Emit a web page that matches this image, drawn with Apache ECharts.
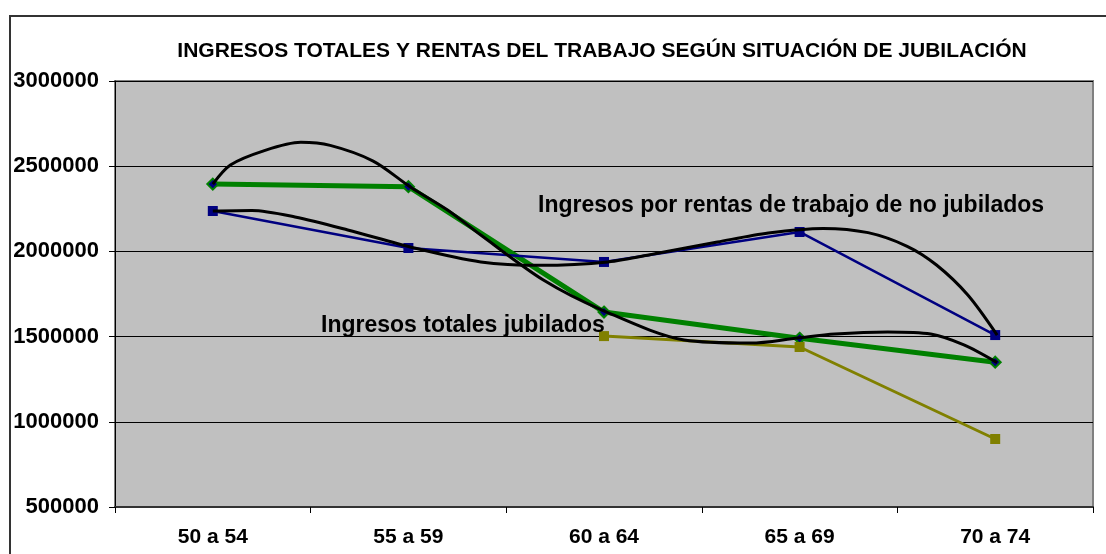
<!DOCTYPE html>
<html>
<head>
<meta charset="utf-8">
<script src="https://cdn.jsdelivr.net/npm/echarts@6/dist/echarts.min.js"></script>
<style>
html,body{margin:0;padding:0;background:#fff;}
#chart{width:1106px;height:554px;}
</style>
</head>
<body>
<div id="chart"></div>
<script>
var categories = ['50 a 54', '55 a 59', '60 a 64', '65 a 69', '70 a 74'];
var ingresosTotalesNoJubilados = [2395000, 2380000, 1644000, 1490000, 1350000];
var rentasTrabajoNoJubilados = [2237000, 2020000, 1938000, 2114000, 1509000];
var ingresosTotalesJubilados = [null, null, 1503000, 1439000, 899000];
// black trend curves as [position, value]; category i is centred at i + 0.5
var tendenciaTotales = [
  [0.50, 2395000], [0.59, 2507000], [0.76, 2590000], [0.95, 2640000],
  [1.10, 2622000], [1.32, 2530000], [1.51, 2378000], [1.70, 2243000],
  [1.87, 2096000], [2.19, 1832000], [2.49, 1656000],
  [2.91, 1480000], [3.25, 1462000], [3.49, 1492000], [3.68, 1515000],
  [3.95, 1527000], [4.17, 1515000], [4.34, 1451000], [4.51, 1347000]
];
var tendenciaRentas = [
  [0.50, 2237000], [0.70, 2240000], [0.92, 2202000], [1.19, 2126000],
  [1.53, 2020000], [1.87, 1938000], [2.17, 1918000], [2.52, 1938000],
  [2.78, 1991000], [3.08, 2055000], [3.34, 2108000], [3.62, 2135000],
  [3.85, 2110000], [4.05, 2030000], [4.20, 1920000], [4.36, 1744000], [4.51, 1509000]
];
var yTicks = {min: 500000, max: 3000000, interval: 500000};
var titulo = 'INGRESOS TOTALES Y RENTAS DEL TRABAJO SEGÚN SITUACIÓN DE JUBILACIÓN';
var nota1 = 'Ingresos por rentas de trabajo de no jubilados';
var nota2 = 'Ingresos totales jubilados';

var FONT = 'Arial, "Liberation Sans", sans-serif';
var chart = echarts.init(document.getElementById('chart'), null, {renderer: 'canvas'});
chart.setOption({
  animation: false,
  backgroundColor: '#ffffff',
  title: {
    text: titulo,
    left: 597, top: 36, textAlign: 'center',
    textStyle: {fontFamily: FONT, fontWeight: 'bold', fontSize: 21, color: '#000'}
  },
  graphic: [
    {type: 'rect', z: -10, shape: {x: 10, y: 16, width: 1200, height: 700},
     style: {fill: 'none', stroke: '#333', lineWidth: 2}},
    {type: 'text', left: 538, top: 194, z: 100,
     style: {text: nota1, font: 'bold 23px ' + FONT, fill: '#000'}},
    {type: 'text', left: 321, top: 314, z: 100,
     style: {text: nota2, font: 'bold 23px ' + FONT, fill: '#000'}}
  ],
  grid: {
    left: 115, top: 81, right: 13, bottom: 47,
    show: true, backgroundColor: '#C0C0C0', borderColor: '#808080', borderWidth: 2,
    containLabel: false
  },
  xAxis: [
    {
      type: 'category', data: categories, boundaryGap: true,
      axisLine: {show: true, onZero: false, lineStyle: {color: '#333', width: 2}},
      axisTick: {show: true, length: 6, lineStyle: {color: '#000'}},
      axisLabel: {margin: 20, fontFamily: FONT, fontWeight: 'bold', fontSize: 21, color: '#000'},
      splitLine: {show: false}
    },
    {
      type: 'value', min: 0, max: 5, show: false
    }
  ],
  yAxis: {
    type: 'value', min: yTicks.min, max: yTicks.max, interval: yTicks.interval,
    axisLine: {show: true, lineStyle: {color: '#000', width: 1}},
    axisTick: {show: true, length: 6, lineStyle: {color: '#000'}},
    axisLabel: {margin: 16, fontFamily: FONT, fontWeight: 'bold', fontSize: 22, color: '#000',
      formatter: function (v) { return String(v); }},
    splitLine: {show: true, lineStyle: {color: '#000', width: 1}}
  },
  series: [
    {
      name: 'Ingresos totales no jubilados', type: 'line', data: ingresosTotalesNoJubilados,
      symbol: 'diamond', symbolSize: 11,
      lineStyle: {color: '#008000', width: 5},
      itemStyle: {color: '#000080', borderColor: '#008000', borderWidth: 2}
    },
    {
      name: 'Rentas de trabajo no jubilados', type: 'line', data: rentasTrabajoNoJubilados,
      symbol: 'rect', symbolSize: 10,
      lineStyle: {color: '#000080', width: 2.5},
      itemStyle: {color: '#000080'}
    },
    {
      name: 'Ingresos totales jubilados', type: 'line', data: ingresosTotalesJubilados,
      symbol: 'rect', symbolSize: 10, connectNulls: false,
      lineStyle: {color: '#808000', width: 3},
      itemStyle: {color: '#808000'}
    },
    {
      name: 'Tendencia totales', type: 'line', xAxisIndex: 1, data: tendenciaTotales,
      smooth: 0.3, showSymbol: false, symbol: 'none',
      lineStyle: {color: '#000', width: 3}, z: 5
    },
    {
      name: 'Tendencia rentas', type: 'line', xAxisIndex: 1, data: tendenciaRentas,
      smooth: 0.3, showSymbol: false, symbol: 'none',
      lineStyle: {color: '#000', width: 3}, z: 5
    }
  ]
});
</script>
</body>
</html>
